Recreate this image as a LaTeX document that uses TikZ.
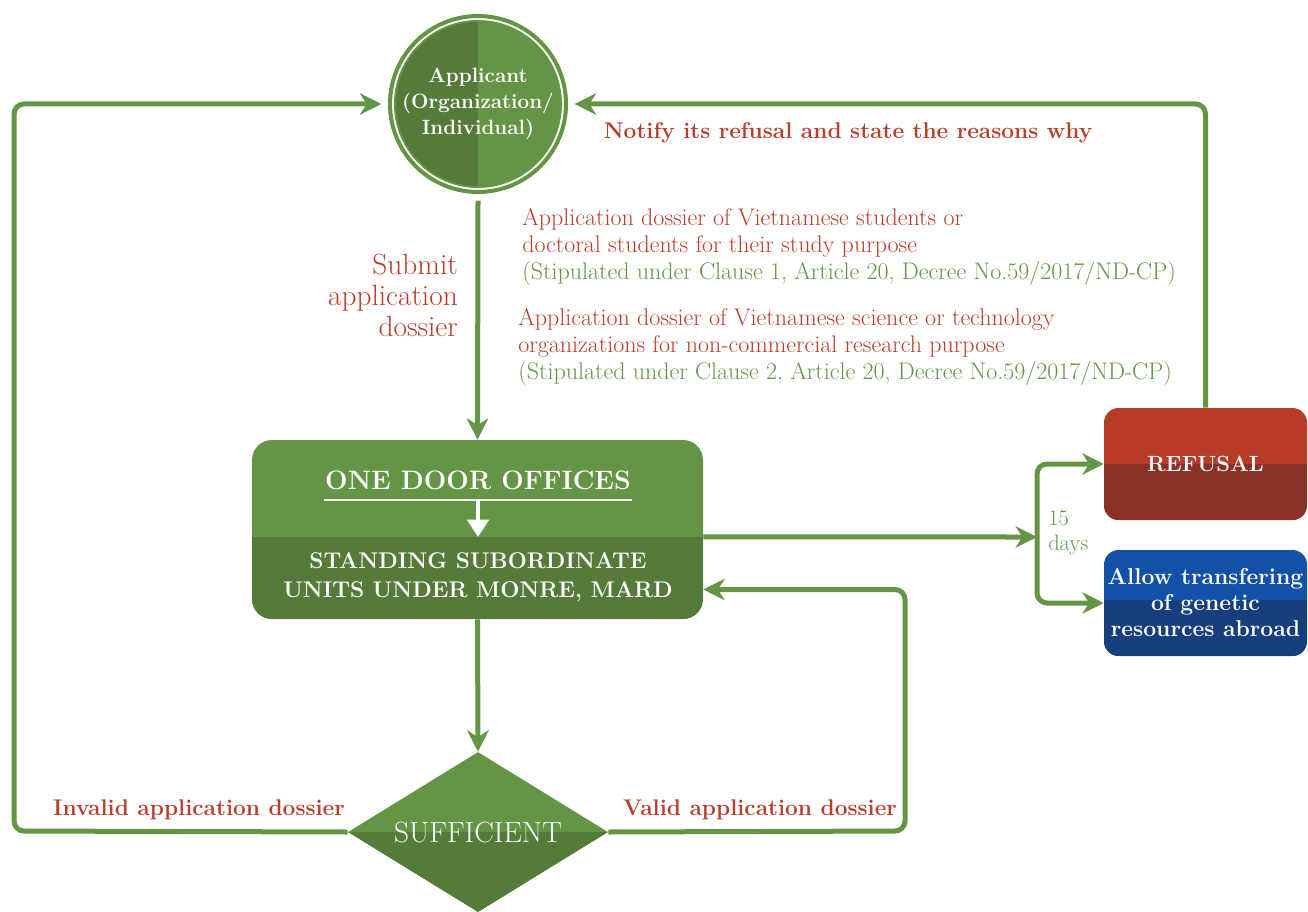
\documentclass[tikz,border=0pt]{standalone}
\usepackage{amsmath}
\usetikzlibrary{calc}
\usetikzlibrary{arrows.meta}
\usetikzlibrary{shapes.geometric}
\definecolor{lgreen}{RGB}{100,149,68}
\definecolor{dgreen}{RGB}{85,123,58}
\definecolor{txtred}{RGB}{184,62,42}
\definecolor{refusaltop}{RGB}{184,59,39}
\definecolor{refusalbot}{RGB}{139,48,36}
\definecolor{allowtop}{RGB}{19,80,168}
\definecolor{allowbot}{RGB}{23,63,126}
\tikzstyle{flow}=[draw=lgreen,line width=3.75pt,rounded corners=7.5pt,-{Stealth[length=16pt,width=16pt,inset=5pt]}]
\tikzstyle{boxtext}=[text=white,align=center,inner sep=0pt]
\tikzstyle{redlabel}=[text=txtred,font=\fontsize{17}{20}\selectfont\bfseries]
\tikzstyle{bodytext}=[align=left,anchor=west,inner sep=0pt,font=\fontsize{18}{20.25}\selectfont]
\tikzset{lowerfill/.style 2 args={path picture={\fill[#1,sharp corners] ([yshift=#2]path picture bounding box.west) rectangle (path picture bounding box.south east);}}}
\tikzset{leftfill/.style={path picture={\fill[#1,sharp corners] (path picture bounding box.north west) rectangle (path picture bounding box.south);}}}

\begin{document}
\begin{tikzpicture}[x=0.75pt,y=-0.75pt]
\useasboundingbox (0,0) rectangle (1308,912);
% applicant with its two rings
\node[circle,fill=lgreen,leftfill=dgreen,minimum size=115.5pt,inner sep=0pt,outer sep=9.75pt,boxtext,font=\fontsize{15.5}{19.5}\selectfont\bfseries] (applicant) at (478,104) {Applicant\\(Organization/\\Individual)};
\draw[lgreen,line width=3pt] (applicant.center) circle[radius=66pt];
\draw[lgreen,line width=1.2pt] (applicant.center) circle[radius=62.25pt];

% one door offices
\node[rectangle,rounded corners=15pt,fill=lgreen,lowerfill={dgreen}{-5.6pt},minimum width=338.25pt,minimum height=134.25pt,inner sep=0pt] (office) at (477.5,529.5) {};
\node[text=white,inner sep=2pt,anchor=base,font=\fontsize{20}{24}\selectfont\bfseries] (one) at (478,489) {ONE DOOR OFFICES};
\coordinate (officesplit) at (478,537);
\draw[white,line width=1.5pt] ([xshift=1pt,yshift=-5.5pt]one.south west) -- ([xshift=-1pt,yshift=-5.5pt]one.south east);
\draw[white,line width=3pt,-{Triangle[length=13pt,width=16pt]}] ([yshift=-5.5pt]one.south) -- (officesplit);
\node[boxtext,font=\fontsize{17}{22}\selectfont\bfseries] (units) at (478,577) {STANDING SUBORDINATE\\UNITS UNDER MONRE, MARD};

% results
\node[rectangle,rounded corners=11pt,fill=refusaltop,lowerfill={refusalbot}{0pt},minimum width=152.25pt,minimum height=84pt,boxtext,font=\fontsize{16.5}{19.5}\selectfont\bfseries] (refusal) at (1205.5,464) {REFUSAL};
\node[rectangle,rounded corners=11pt,fill=allowtop,lowerfill={allowbot}{2.25pt},minimum width=152.25pt,minimum height=79.5pt,boxtext,font=\fontsize{17.2}{19.5}\selectfont\bfseries] (allow) at (1205.5,603) {Allow transfering\\of genetic\\resources abroad};

\node[diamond,aspect=1.625,fill=lgreen,lowerfill={dgreen}{0pt},minimum width=195pt,minimum height=120pt,boxtext,font=\fontsize{22}{24}\selectfont] (sufficient) at (478,832) {SUFFICIENT};

% connectors
\coordinate (fork) at (1037,537);
\coordinate (invalidrail) at (14,831);
\coordinate (validrail) at (905,831);
\draw[flow] (applicant.south) -- (office.north);
\draw[flow] (office.south) -- (sufficient.north);
\draw[flow] ([yshift=-5.6pt]office.east) -- (fork);
\draw[flow] (fork) |- (refusal.west);
\draw[flow] (fork) |- (allow.west);
\draw[flow] (refusal.north) |- (applicant.east);
\draw[flow] (sufficient.west) -- (invalidrail) |- (applicant.west);
\draw[flow] (sufficient.east) -- (validrail) |- ([yshift=-45pt]office.east);

% labels
\node[text=txtred,align=right,anchor=east,inner sep=0pt,font=\fontsize{22}{23.25}\selectfont] (submit) at (458,295) {Submit\\application\\dossier};
\node[bodytext] (studentdossier) at (522,247) {\textcolor{txtred}{Application dossier of Vietnamese students or}\\\textcolor{txtred}{doctoral students for their study purpose}\\\textcolor{lgreen}{(Stipulated under Clause 1, Article 20, Decree No.59/2017/ND-CP)}};
\node[bodytext] (orgdossier) at (518,347) {\textcolor{txtred}{Application dossier of Vietnamese science or technology}\\\textcolor{txtred}{organizations for non-commercial research purpose}\\\textcolor{lgreen}{(Stipulated under Clause 2, Article 20, Decree No.59/2017/ND-CP)}};
\node[redlabel] (notify) at (848,133) {Notify its refusal and state the reasons why};
\node[redlabel] (invalid) at (199,810) {Invalid application dossier};
\node[redlabel] (valid) at (760,810) {Valid application dossier};
\node[text=lgreen,align=left,anchor=west,inner sep=0pt,font=\fontsize{16.8}{19}\selectfont] (days) at (1048,533) {15\\days};
\end{tikzpicture}
\end{document}
